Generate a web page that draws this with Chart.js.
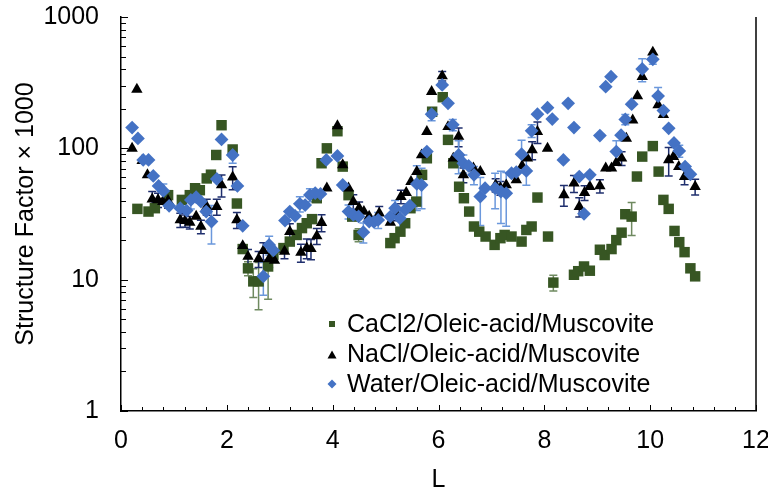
<!DOCTYPE html>
<html>
<head>
<meta charset="utf-8">
<script src="https://cdn.jsdelivr.net/npm/chart.js@4.4.0/dist/chart.umd.min.js"></script>
<style>
  body { margin: 0; background: #fff; }
  canvas { display: block; }
</style>
</head>
<body>
<canvas id="chart" width="768" height="488"></canvas>
<script>
var FONT = "'Liberation Sans', Arial, sans-serif";

// CaCl2/Oleic-acid/Muscovite
var caL = [0.31,0.52,0.64,0.89,1.15,1.30,1.40,1.49,1.62,1.70,1.80,1.90,2.11,2.19,2.30,2.40,2.50,2.60,2.78,2.88,3.07,3.19,3.32,3.42,3.51,3.61,3.70,3.79,3.89,4.09,4.19,4.30,4.37,4.49,5.09,5.17,5.28,5.37,5.47,5.58,5.69,5.78,5.88,6.08,6.18,6.28,6.39,6.48,6.58,6.67,6.77,6.89,7.06,7.17,7.25,7.38,7.57,7.66,7.76,7.87,8.07,8.17,8.56,8.64,8.75,8.86,9.05,9.14,9.27,9.36,9.46,9.53,9.65,9.75,9.85,10.05,10.16,10.25,10.35,10.46,10.55,10.65,10.76,10.85];
var caSF = [34.6,33,35,44,40.5,44,49.7,48,59,63,89,150,98,38,17.1,12.2,9.7,9.7,12.6,15.5,17.4,19.5,21.9,24.7,26.9,28.9,41.7,77,100,135,72.6,44,30.2,21.9,19,20.7,23.2,26.9,35,39.3,62.8,84,190,245,116,77,51,41.7,33,25.4,23.2,21.3,18.4,20.7,21.9,21.3,19.5,23.9,25.4,42.2,21.3,9.5,10.9,11.6,12.6,11.7,16.9,15.4,17.1,20,22.8,31.5,30.2,61,86.5,104,66.5,40.5,34.6,23.5,19.3,16.2,12.2,10.6];
var caErrL = [2.40,2.50,2.60,2.78,4.49,8.17,9.65];
var caErr = [1.5,2.4,3.8,5.5,2.5,1.3,8.5];

// NaCl/Oleic-acid/Muscovite
var naL = [0.21,0.30,0.40,0.50,0.59,0.70,0.79,0.89,1.12,1.21,1.30,1.42,1.51,1.62,1.81,1.90,2.11,2.19,2.30,2.40,2.60,2.69,2.80,2.90,3.09,3.19,3.40,3.51,3.59,3.70,3.79,3.89,4.09,4.19,4.30,4.39,4.50,4.59,4.69,4.88,5.09,5.20,5.29,5.39,5.48,5.59,5.68,5.78,5.87,6.07,6.18,6.28,6.38,6.47,6.66,6.79,7.08,7.17,7.28,7.47,7.58,7.68,7.77,7.87,8.06,8.37,8.56,8.66,8.76,8.86,9.05,9.16,9.27,9.36,9.46,9.55,9.67,9.76,9.85,10.05,10.15,10.25,10.35,10.44,10.54,10.65,10.85];
var naSF = [100,281,80.6,62.8,41,40.5,39.3,40,28.5,28.1,27.3,30.3,25.4,36,36,52.6,60.3,28.5,18.1,15,14.4,16.6,14.4,14,16.4,23.2,16.1,17.4,17.2,21.5,27.2,49.7,148,74.8,49.7,39.3,35,33,30.3,32.1,27.3,32.1,42.9,46,55.8,66.5,89,134,270,355,146,84,123,62.8,70.6,66.5,52.6,50,52.6,57.5,73.5,84,97,134,100,44.2,54.2,36,46,51.1,51.7,70.6,70.6,77.8,84,119,164,250,351,539,214,180,81.6,86.5,72.6,60.9,51.1];
var naErrL = [0.59,0.70,0.89,1.12,1.21,1.30,1.51,1.62,1.81,1.90,2.11,2.19,2.40,2.60,2.69,2.80,3.09,3.19,3.40,3.51,3.59,3.70,3.79,4.39,4.50,4.88,5.20,5.29,6.07,6.38,6.47,7.08,7.17,7.77,7.87,8.37,8.56,8.66,8.76,9.05,9.46,10.35,10.65,10.85];
var naErr = [6,5,5,3.5,3,3,3,5,5,10,12,4,2,2,2.5,2,2,3.5,2.5,3,3,3,4,5,4,4,4,5,30,20,8,6,6,15,25,8,8,6,6,6,10,20,8,7];

// Water/Oleic-acid/Muscovite
var waL = [0.21,0.32,0.42,0.52,0.61,0.71,0.80,0.91,1.12,1.24,1.32,1.42,1.51,1.61,1.71,1.81,1.90,2.11,2.20,2.30,2.69,2.80,2.88,3.10,3.19,3.29,3.38,3.48,3.57,3.67,3.77,3.88,4.09,4.19,4.30,4.39,4.49,4.58,4.69,4.78,4.86,5.09,5.18,5.27,5.37,5.46,5.59,5.68,5.78,5.87,6.07,6.18,6.27,6.38,6.47,6.57,6.67,6.79,6.88,7.07,7.18,7.28,7.38,7.47,7.57,7.66,7.76,7.87,8.06,8.15,8.36,8.45,8.56,8.66,8.75,8.86,9.05,9.16,9.26,9.36,9.45,9.53,9.65,9.85,10.05,10.15,10.25,10.35,10.45,10.55,10.66,10.76];
var waSF = [144,119,81.6,81.6,61.7,51.7,47.4,36.5,35,33.6,40.5,42.5,39.3,33,27.7,58.5,117,89,51.7,25.7,10.6,18.4,16.7,28.2,33,30.6,37.8,37,44.2,45.6,45,81.6,87.6,52.6,33,31.1,30.3,23,27.7,27.5,28.5,30.2,35,29.4,34,36.6,53.6,52.6,94.4,182,304,220,151,89,77,73.5,62.8,42.9,49.7,49.7,46.8,45.5,64.6,66,90.2,67.3,136,182,204,167,81.6,220,144,60.9,31.7,62.8,125,295,351,94.4,126,166,217,402,476,250,194,142,110,95.5,72.6,63.5];
var waErrL = [0.80,1.32,1.71,2.11,2.69,2.80,3.38,3.57,4.30,4.58,4.86,5.18,5.27,5.59,5.68,5.87,6.27,6.38,6.47,6.67,6.79,7.07,7.18,7.28,7.57,7.66,7.76,9.36,9.53,9.85,10.05,10.15,10.55];
var waErr = [6,6,9,12,3,3,5,5,4,4,4,5,5,20,18,20,15,25,12,10,17,15,20,20,25,15,15,20,15,80,40,40,10];

var yTicks = [1, 10, 100, 1000];

var series = [
  { label: "CaCl2/Oleic-acid/Muscovite", xs: caL, ys: caSF, errL: caErrL, err: caErr,
    color: "#375623", errColor: "#6f8a60", style: "rect", radius: 7.4, order: 3 },
  { label: "NaCl/Oleic-acid/Muscovite", xs: naL, ys: naSF, errL: naErrL, err: naErr,
    color: "#000000", errColor: "#1f2f6e", style: "triangle", radius: 6.6, order: 2 },
  { label: "Water/Oleic-acid/Muscovite", xs: waL, ys: waSF, errL: waErrL, err: waErr,
    color: "#4472c4", errColor: "#6b98dc", style: "rectRot", radius: 6.9, order: 1 }
];

function toPoints(xs, ys) {
  var pts = [];
  for (var i = 0; i < xs.length; i++) pts.push({ x: xs[i], y: ys[i] });
  return pts;
}

// error bars, inward ticks, right border and the legend box
var decor = {
  id: "decor",
  beforeDatasetsDraw: function(chart) {
    var ctx = chart.ctx, xS = chart.scales.x, yS = chart.scales.y;
    series.forEach(function(s) {
      ctx.save();
      ctx.strokeStyle = s.errColor;
      ctx.lineWidth = 1.5;
      s.errL.forEach(function(l, k) {
        var i = s.xs.indexOf(l);
        if (i < 0) return;
        var v = s.ys[i], e = s.err[k];
        var px = xS.getPixelForValue(l);
        var top = yS.getPixelForValue(v + e);
        var bot = yS.getPixelForValue(Math.max(v - e, 1));
        ctx.beginPath();
        ctx.moveTo(px, top); ctx.lineTo(px, bot);
        ctx.moveTo(px - 4, top); ctx.lineTo(px + 4, top);
        ctx.moveTo(px - 4, bot); ctx.lineTo(px + 4, bot);
        ctx.stroke();
      });
      ctx.restore();
    });
  },
  afterDraw: function(chart) {
    var ctx = chart.ctx, a = chart.chartArea;
    var xS = chart.scales.x, yS = chart.scales.y;
    ctx.save();
    ctx.strokeStyle = "#000";
    ctx.lineWidth = 1;
    ctx.beginPath();
    // x ticks every 0.4
    for (var k = 0; k <= 30; k++) {
      var v = k * 0.4;
      var px = Math.round(xS.getPixelForValue(v)) + 0.5;
      var len = (Math.abs(v / 2 - Math.round(v / 2)) < 1e-6) ? 6 : 4;
      ctx.moveTo(px, a.bottom); ctx.lineTo(px, a.bottom - len);
    }
    // y ticks, decades and minors
    for (var d = 1; d <= 1000; d *= 10) {
      for (var m = 1; m <= 9; m++) {
        var val = d * m;
        if (val > 1000) break;
        var py = Math.round(yS.getPixelForValue(val)) + 0.5;
        var l2 = m === 1 ? 7 : 5;
        ctx.moveTo(a.left, py); ctx.lineTo(a.left + l2, py);
      }
    }
    ctx.stroke();
    ctx.lineWidth = 1.5;
    ctx.beginPath();
    ctx.moveTo(a.right, a.top); ctx.lineTo(a.right, a.bottom);
    ctx.stroke();

    // legend
    var rows = [324, 355, 384];
    var base = [332, 362, 392];
    ctx.font = "25px " + FONT;
    ctx.textBaseline = "alphabetic";
    ctx.textAlign = "left";
    series.forEach(function(s, i) {
      var cx = 332, cy = rows[i];
      ctx.fillStyle = s.color;
      ctx.beginPath();
      if (s.style === "rect") {
        ctx.rect(cx - 3, cy - 3, 6, 6);
      } else if (s.style === "triangle") {
        ctx.moveTo(cx, cy - 4.5); ctx.lineTo(cx + 4.5, cy + 3.5); ctx.lineTo(cx - 4.5, cy + 3.5);
      } else {
        ctx.moveTo(cx, cy - 4.5); ctx.lineTo(cx + 4.5, cy); ctx.lineTo(cx, cy + 4.5); ctx.lineTo(cx - 4.5, cy);
      }
      ctx.closePath();
      ctx.fill();
      ctx.fillStyle = "#000";
      ctx.fillText(s.label, 347, base[i]);
    });
    ctx.restore();
  }
};

var datasets = series.map(function(s) {
  return {
    label: s.label,
    data: toPoints(s.xs, s.ys),
    order: s.order,
    showLine: false,
    pointStyle: s.style,
    pointRadius: s.radius,
    pointHoverRadius: s.radius,
    pointBackgroundColor: s.color,
    pointBorderWidth: 0,
    borderColor: s.color,
    backgroundColor: s.color
  };
});

var ctx = document.getElementById("chart");
var chart = new Chart(ctx, {
  type: "scatter",
  data: { datasets: datasets },
  options: {
    responsive: false,
    animation: false,
    layout: { padding: { top: 17, right: 12, left: 0, bottom: 0 } },
    plugins: {
      legend: { display: false },
      tooltip: { enabled: false }
    },
    scales: {
      x: {
        type: "linear",
        min: 0,
        max: 12,
        grid: { display: false, drawTicks: false },
        border: { color: "#000", width: 1.5 },
        ticks: { stepSize: 2, padding: 15, color: "#000", font: { family: FONT, size: 25 } },
        title: { display: true, text: "L", color: "#000", font: { family: FONT, size: 25 }, padding: { top: 0, bottom: -7 } },
        afterFit: function(scale) {
          scale.height = 77;
          scale.paddingLeft = 0;
          scale.paddingRight = 0;
        }
      },
      y: {
        type: "logarithmic",
        min: 1,
        max: 1000,
        grid: { display: false, drawTicks: false },
        border: { color: "#000", width: 1.5 },
        afterBuildTicks: function(scale) {
          scale.ticks = yTicks.map(function(v) { return { value: v }; });
        },
        ticks: {
          padding: 22,
          color: "#000",
          autoSkip: false,
          font: { family: FONT, size: 25 },
          callback: function(v) { return String(v); }
        },
        title: { display: true, text: "Structure Factor × 1000", color: "#000", font: { family: FONT, size: 25 }, padding: { top: 11, bottom: 0 } },
        afterFit: function(scale) {
          scale.width = 121;
          scale.paddingTop = 0;
          scale.paddingBottom = 0;
        }
      }
    }
  },
  plugins: [decor]
});
</script>
</body>
</html>
